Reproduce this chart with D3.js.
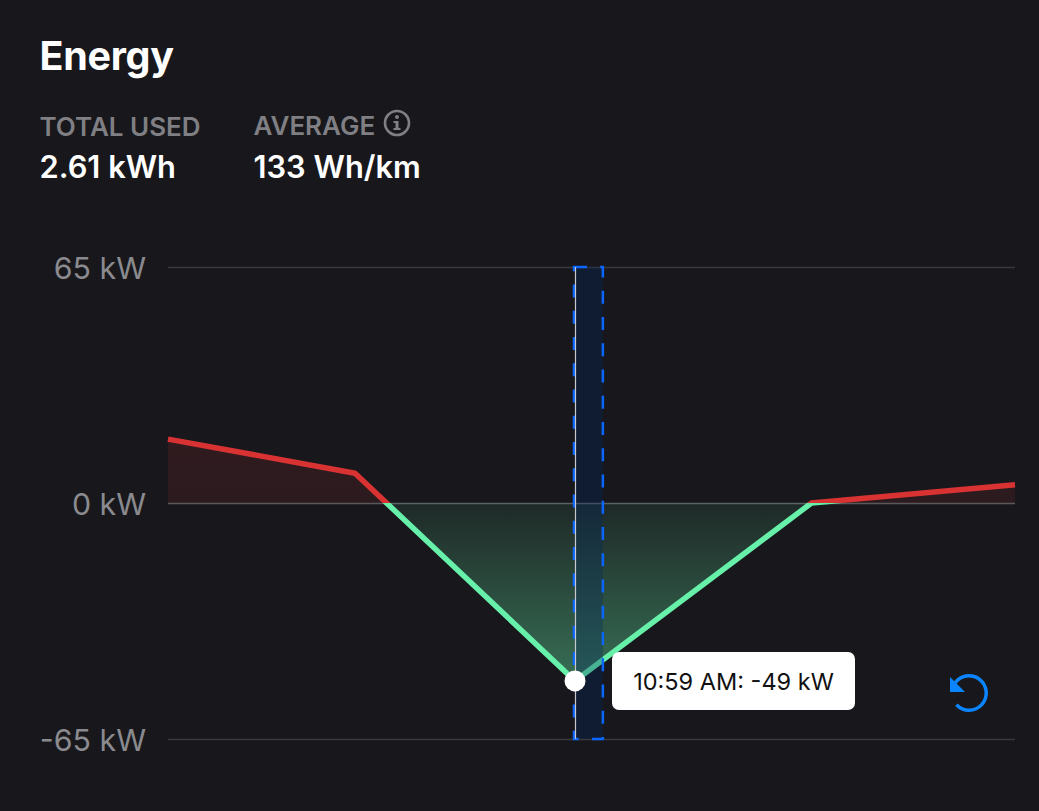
<!DOCTYPE html>
<html><head><meta charset="utf-8">
<script src="https://cdn.jsdelivr.net/npm/d3@7"></script>
<style>
html,body{margin:0;padding:0;background:#18181c;overflow:hidden}
text{font-family:Inter,"Noto Sans",sans-serif}
</style></head><body>
<svg id="c" width="1039" height="811"></svg>
<script>
// Data
const seconds = [0, 51, 111, 175.5, 231];          // seconds from start of the selected range
const powerKw = [17.6, 8.2, -49, 0, 5];
const yTicks = [65, 0, -65];
const selectionSeconds = [111, 118.6];
const cursorIndex = 2;
const tooltipLabel = "10:59 AM: -49 kW";
const title = "Energy";
const stats = [["TOTAL USED", "2.61 kWh"], ["AVERAGE", "133 Wh/km"]];

const svg = d3.select("#c");
const x = d3.scaleLinear().domain([0, 231]).range([168, 1015]);
const y = d3.scaleLinear().domain([-65, 65]).range([739, 267]);
const pts = seconds.map((s, i) => ({s, v: powerKw[i]}));

// header
svg.append("text").attr("x", 39.5).attr("y", 70).attr("fill", "#fff")
  .attr("font-size", 39.5).attr("font-weight", 700).attr("letter-spacing", -0.3).text(title);
const statX = [39.5, 253.5], labelY = [136, 135];
stats.forEach((d, i) => {
  svg.append("text").attr("x", statX[i]).attr("y", labelY[i]).attr("fill", "#7f7f84")
    .attr("font-size", 26).attr("font-weight", 600).text(d[0]);
  svg.append("text").attr("x", statX[i]).attr("y", 178).attr("fill", "#fff")
    .attr("font-size", 30.8).attr("font-weight", 600).text(d[1]);
});
// info icon
const info = svg.append("g").attr("transform", "translate(397,123)");
info.append("circle").attr("r", 12).attr("fill", "none").attr("stroke", "#7f7f84").attr("stroke-width", 2.6);
info.append("circle").attr("cy", -6).attr("r", 2).attr("fill", "#7f7f84");
info.append("path").attr("d", "M-3.5,-2H1.5V5H3.5V7H-3.5V5H-1.5V0H-3.5Z").attr("fill", "#7f7f84");

// gradients
const defs = svg.append("defs");
const gTop = y(65), gBot = y(-65);
const lin = defs.append("linearGradient").attr("id", "lineG").attr("gradientUnits", "userSpaceOnUse")
  .attr("x1", 0).attr("x2", 0).attr("y1", gTop).attr("y2", gBot);
[[0, "#d93232"], [0.5, "#d93232"], [0.5, "#66f0aa"], [1, "#66f0aa"]].forEach(s =>
  lin.append("stop").attr("offset", s[0]).attr("stop-color", s[1]));
const ar = defs.append("linearGradient").attr("id", "areaG").attr("gradientUnits", "userSpaceOnUse")
  .attr("x1", 0).attr("x2", 0).attr("y1", gTop).attr("y2", gBot);
[[0, "#d93232", 0.2], [0.5, "#d93232", 0.1], [0.5, "#66f0aa", 0.08], [0.9, "#66f0aa", 0.42], [1, "#66f0aa", 0.42]].forEach(s =>
  ar.append("stop").attr("offset", s[0]).attr("stop-color", s[1]).attr("stop-opacity", s[2]));

// grid + axis
const axis = d3.axisLeft(y).tickValues(yTicks).tickSize(-(x.range()[1] - x.range()[0]))
  .tickPadding(22).tickFormat(d => d + " kW");
const ag = svg.append("g").attr("transform", `translate(${x.range()[0]},0)`).call(axis);
ag.select(".domain").remove();
ag.selectAll("line").attr("stroke", d => d === 0 ? "#58585c" : "#3a3a3d").attr("stroke-width", 1.5);
ag.selectAll("text").attr("fill", "#8a8a8f").attr("font-size", 30.3).attr("font-family", "Inter").attr("dy", "0.38em");

// area + line
const area = d3.area().x(d => x(d.s)).y0(y(0)).y1(d => y(d.v));
const line = d3.line().x(d => x(d.s)).y(d => y(d.v));
svg.append("path").datum(pts).attr("d", area).attr("fill", "url(#areaG)");
svg.append("path").datum(pts).attr("d", line).attr("fill", "none")
  .attr("stroke", "url(#lineG)").attr("stroke-width", 5.5).attr("stroke-linejoin", "round");

// selection
const sx0 = x(selectionSeconds[0]), sx1 = x(selectionSeconds[1]);
svg.append("rect").attr("x", sx0).attr("y", gTop).attr("width", sx1 - sx0).attr("height", gBot - gTop)
  .attr("fill", "#002864").attr("fill-opacity", 0.3);
svg.append("rect").attr("x", sx0 - 1).attr("y", gTop).attr("width", sx1 - sx0 + 1).attr("height", gBot - gTop)
  .attr("fill", "none").attr("stroke", "#0a66ff").attr("stroke-width", 2.5)
  .attr("stroke-dasharray", "13,13.25");
svg.append("line").attr("x1", sx0 + 0.5).attr("x2", sx0 + 0.5).attr("y1", gTop).attr("y2", gBot)
  .attr("stroke", "#c8c8d0").attr("stroke-width", 1.2);

// cursor
const cp = pts[cursorIndex];
svg.append("circle").attr("cx", x(cp.s)).attr("cy", y(cp.v)).attr("r", 10.5).attr("fill", "#fff");

// tooltip
svg.append("rect").attr("x", 612).attr("y", 652).attr("width", 243).attr("height", 58).attr("rx", 7).attr("fill", "#fff");
svg.append("text").attr("x", 733.5).attr("y", 689.5).attr("text-anchor", "middle").attr("fill", "#111")
  .attr("font-size", 23.5).text(tooltipLabel);

// reset icon
const ri = svg.append("g").attr("transform", "translate(969,693)");
ri.append("path").attr("d", d3.arc()({innerRadius: 15.5, outerRadius: 19, startAngle: -0.315 * Math.PI, endAngle: 1.26 * Math.PI}))
  .attr("fill", "#0a84ff");
ri.append("path").attr("d", "M-19,-16L-19,-1L-4,-1Z").attr("fill", "#0a84ff");
</script>
</body></html>
